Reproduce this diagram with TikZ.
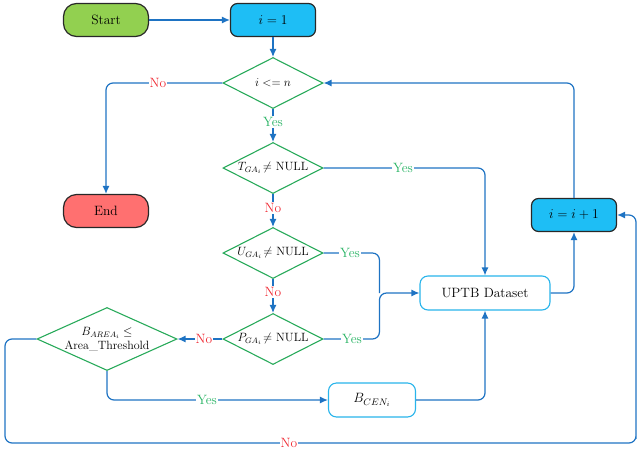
\RequirePackage{fix-cm}
\documentclass[tikz,border=0pt]{standalone}
\usepackage{fontspec}
\usetikzlibrary{shapes.geometric,arrows.meta}
\definecolor{flowblue}{RGB}{30,115,195}
\definecolor{decgreen}{RGB}{40,170,90}
\definecolor{yesgreen}{RGB}{40,180,100}
\definecolor{nored}{RGB}{240,40,50}
\definecolor{startgreen}{RGB}{146,208,80}
\definecolor{stepcyan}{RGB}{30,190,245}
\definecolor{endred}{RGB}{255,112,112}
\definecolor{boxcyan}{RGB}{40,180,235}
\definecolor{edgedark}{RGB}{40,40,40}
\begin{document}
\begin{tikzpicture}[x=1pt,y=-1pt,
  font=\fontsize{13.5}{15}\selectfont,
  terminal/.style={draw=edgedark, line width=1.2pt, rounded corners=13pt,
    minimum width=85pt, minimum height=33pt, inner sep=0pt},
  counter/.style={draw=edgedark, line width=1.2pt, rounded corners=7pt,
    minimum width=85pt, minimum height=33pt, inner sep=0pt, fill=stepcyan},
  databox/.style={draw=boxcyan, line width=1.1pt, rounded corners=8pt, fill=white,
    minimum height=34pt, inner sep=0pt},
  decision/.style={diamond, draw=decgreen, line width=1.1pt, inner sep=0pt,
    minimum width=100pt, minimum height=51pt},
  dectext/.style={font=\fontsize{12}{14}\selectfont, align=center},
  flow/.style={draw=flowblue, line width=1.2pt, rounded corners=7pt,
    -{Latex[length=8pt,width=7pt]}},
  plainflow/.style={draw=flowblue, line width=1.2pt, rounded corners=7pt},
  yeslbl/.style={text=yesgreen, fill=white, inner sep=1pt},
  nolbl/.style={text=nored, fill=white, inner sep=1pt}]
\useasboundingbox (0,0) rectangle (639,450);

% terminals and counters
\node[terminal, fill=startgreen] (start) at (106,20) {Start};
\node[counter] (init) at (273,20) {$i=1$};
\node[terminal, fill=endred] (stop) at (106,211) {End};
\node[counter] (inc) at (574,215) {$i=i+1$};

% decisions
\node[decision, label={[dectext]center:$i<=n$}] (loop) at (273,83) {};
\node[decision, label={[dectext]center:$T_{GA_i}\!\neq$ NULL}] (tga) at (273,168) {};
\node[decision, label={[dectext]center:$U_{GA_i}\!\neq$ NULL}] (uga) at (273,253) {};
\node[decision, label={[dectext]center:$P_{GA_i}\!\neq$ NULL}] (pga) at (273,339) {};
\node[decision, minimum width=140pt, minimum height=63pt,
  label={[dectext]center:$B_{AREA_i}\leq$\\Area\_Threshold}] (barea) at (107,339) {};

% data boxes
\node[databox, minimum width=130pt] (uptb) at (485,293) {UPTB Dataset};
\node[databox, minimum width=87pt] (bcen) at (372,400) {$B_{CEN_i}$};

% connectors
\draw[flow] (start) -- (init);
\draw[flow] (init) -- (loop);
\draw[flow] (loop.west) -| (stop.north);
\draw[flow] (loop) -- (tga);
\draw[flow] (tga) -- (uga);
\draw[flow] (uga) -- (pga);
\draw[flow] (tga.east) -| (uptb.north);
\draw[plainflow] (uga.east) -| ([xshift=-40pt]uptb.west);
\draw[flow] (pga.east) -| ([xshift=-40pt]uptb.west) -- (uptb.west);
\draw[flow] (pga.west) -- (barea.east);
\draw[flow] (barea.south) |- (bcen.west);
\draw[flow] (bcen.east) -| (uptb.south);
\draw[flow] (uptb.east) -| (inc.south);
\draw[flow] (inc.north) |- (loop.east);
\coordinate (lowleft) at (5,443);
\coordinate (lowright) at (636,443);
\draw[flow] (barea.west) -| (lowleft) -| (lowright) |- (inc.east);

% branch labels
\node[nolbl] (noloop) at (158,83) {No};
\node[yeslbl] (yesloop) at (273,122) {Yes};
\node[yeslbl] (yestga) at (403,168) {Yes};
\node[nolbl] (notga) at (273,208) {No};
\node[yeslbl] (yesuga) at (350,253) {Yes};
\node[nolbl] (nouga) at (273,292) {No};
\node[yeslbl] (yespga) at (352,339) {Yes};
\node[nolbl] (nopga) at (204,339) {No};
\node[yeslbl] (yesbarea) at (207,400) {Yes};
\node[nolbl] (nobarea) at (289,443) {No};
\end{tikzpicture}
\end{document}
